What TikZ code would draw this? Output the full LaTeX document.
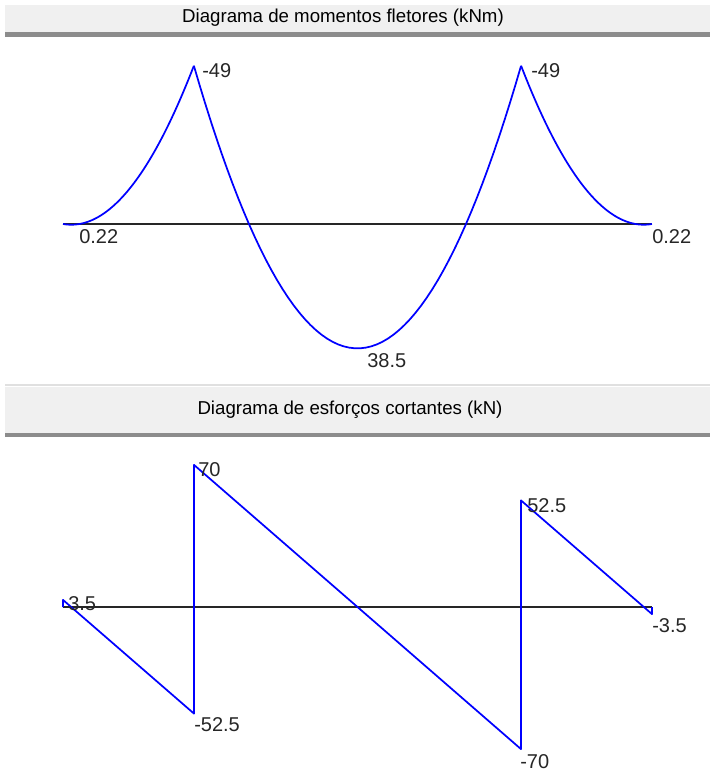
\documentclass[tikz,border=0pt]{standalone}
\usepackage{fontspec}
\setmainfont{Liberation Sans}

\begin{document}
\begin{tikzpicture}[
        x=0.75pt, y=-0.75pt,
        every node/.style={font=\fontsize{15}{18}\selectfont},
        bar/.style={fill=black!6, draw=none},
        barline/.style={fill=black!45, draw=none},
        axis/.style={line width=1.3pt, black!85},
        diag/.style={line width=1.3pt, blue, line join=round},
        val/.style={inner sep=0pt, anchor=west, text=black!85},
        title/.style={inner sep=0pt, font=\fontsize{14}{17}\selectfont}
    ]
    \useasboundingbox (0,0) rectangle (710,778);
    % title bars
    \fill[bar] (5,5) rectangle (710,32);
    \fill[barline] (5,32) rectangle (710,37);
    \fill[black!12] (5,384) rectangle (710,386);
    \fill[bar] (5,387) rectangle (710,433);
    \fill[barline] (5,433) rectangle (710,437);
    \node[title] (tM) at (343,18) {Diagrama de momentos fletores (kNm)};
    \node[title] (tV) at (350,410) {Diagrama de esforços cortantes (kN)};

    % baselines
    \coordinate (mA) at (63,224);
    \coordinate (mB) at (652,224);
    \coordinate (vA) at (63,607);
    \coordinate (vB) at (652,607);
    \draw[axis] (mA) -- (mB);
    \draw[axis] (vA) -- (vB);

    % bending moment, one parabola per span (q = 28 kN/m)
    \foreach \xs/\ls/\ms/\vs in {0/2/0/3.5, 2/5/-49/70, 7/2/-49/52.5} {
        \draw[diag, domain=0:\ls, samples=60]
            plot ({63+65.44*(\xs+\x)}, {224+3.23*(\ms+\vs*\x-14*\x*\x)});
    }

    % shear force
    \coordinate (vL1) at (63,599.9);
    \coordinate (vL2) at (194,713.6);
    \coordinate (vM1) at (194,464.9);
    \coordinate (vM2) at (521,749.1);
    \coordinate (vR1) at (521,500.4);
    \coordinate (vR2) at (652,614.1);
    \draw[diag] (vA) -- (vL1) -- (vL2) -- (vM1) -- (vM2) -- (vR1) -- (vR2) -- (vB);

    % values
    \node[val] (m1) at (202,71) {-49};
    \node[val] (m2) at (531,71) {-49};
    \node[val] (m3) at (79,237) {0.22};
    \node[val] (m4) at (652,237) {0.22};
    \node[val] (m5) at (367,361) {38.5};
    \node[val] (v1) at (68,604) {3.5};
    \node[val] (v2) at (198,470) {70};
    \node[val] (v3) at (194,725) {-52.5};
    \node[val] (v4) at (527,506) {52.5};
    \node[val] (v5) at (520,762) {-70};
    \node[val] (v6) at (652,626) {-3.5};
\end{tikzpicture}
\end{document}
